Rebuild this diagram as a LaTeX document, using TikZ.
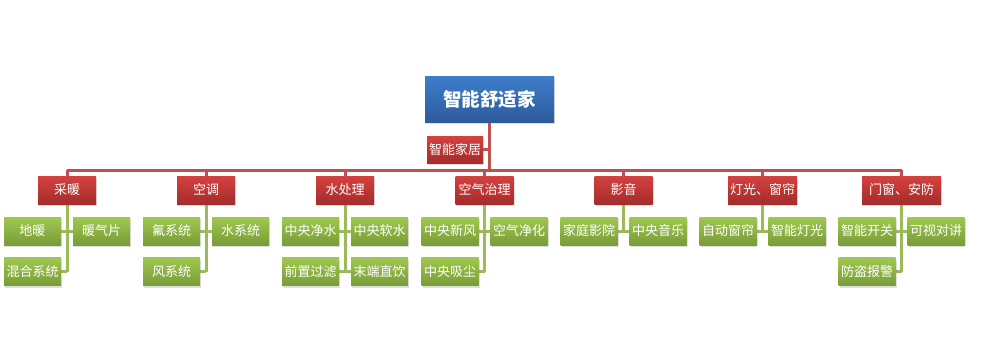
\documentclass[tikz,border=0pt]{standalone}
\usepackage{fontspec}
\setmainfont{Noto Sans CJK SC}
\usetikzlibrary{shadows,backgrounds}
\begin{document}
\begin{tikzpicture}[x=1pt,y=-1pt,
  boxbase/.style={draw=none,inner sep=0pt,text=white,
    drop shadow={opacity=0.25,shadow xshift=1pt,shadow yshift=-2pt}},
  rootbox/.style={boxbase,minimum width=129pt,minimum height=46pt,
    top color={rgb,255:red,62;green,125;blue,202},bottom color={rgb,255:red,44;green,92;blue,156},
    font=\fontsize{18.5}{20}\selectfont\bfseries},
  redbox/.style={boxbase,minimum width=58pt,minimum height=28pt,
    top color={rgb,255:red,212;green,66;blue,64},bottom color={rgb,255:red,164;green,44;blue,42},
    font=\fontsize{13}{15}\selectfont},
  greenbox/.style={boxbase,minimum width=57pt,minimum height=28pt,
    top color={rgb,255:red,160;green,200;blue,80},bottom color={rgb,255:red,120;green,156;blue,56},
    font=\fontsize{13}{15}\selectfont},
  redline/.style={draw={rgb,255:red,192;green,80;blue,77},line width=3pt},
  greenline/.style={draw={rgb,255:red,155;green,187;blue,89},line width=3pt}
]
\useasboundingbox (0,0) rectangle (983,362);

\coordinate (barL) at (67,170);
\coordinate (barR) at (901.5,170);

% root and sub
\node[rootbox] (root) at (489.5,99) {智能舒适家};
\node[redbox,minimum width=56pt,minimum height=27pt] (jj) at (455,149.5) {智能家居};

% categories
\node[redbox] (c1) at (67,190) {采暖};
\node[redbox] (c2) at (206,190) {空调};
\node[redbox] (c3) at (345,190) {水处理};
\node[redbox] (c4) at (484.5,190) {空气治理};
\node[redbox] (c5) at (623.5,190) {影音};
\node[redbox,minimum width=69pt] (c6) at (762.5,190) {灯光、窗帘};
\node[redbox,minimum width=79pt] (c7) at (901.5,190) {门窗、安防};

% leaves
\node[greenbox] (a1) at (32.5,231) {地暖};
\node[greenbox] (a2) at (101.5,231) {暖气片};
\node[greenbox] (a3) at (32.5,271.5) {混合系统};

\node[greenbox] (b1) at (171.5,231) {氟系统};
\node[greenbox] (b2) at (240.5,231) {水系统};
\node[greenbox] (b3) at (171.5,271.5) {风系统};

\node[greenbox] (w1) at (310.5,231) {中央净水};
\node[greenbox] (w2) at (379.5,231) {中央软水};
\node[greenbox] (w3) at (310.5,271.5) {前置过滤};
\node[greenbox] (w4) at (379.5,271.5) {末端直饮};

\node[greenbox] (k1) at (450,231) {中央新风};
\node[greenbox] (k2) at (519,231) {空气净化};
\node[greenbox] (k3) at (450,271.5) {中央吸尘};

\node[greenbox] (y1) at (589,231) {家庭影院};
\node[greenbox] (y2) at (658,231) {中央音乐};

\node[greenbox] (d1) at (728,231) {自动窗帘};
\node[greenbox] (d2) at (797,231) {智能灯光};

\node[greenbox] (m1) at (867,231) {智能开关};
\node[greenbox] (m2) at (936,231) {可视对讲};
\node[greenbox] (m3) at (867,271.5) {防盗报警};

\begin{pgfonlayer}{background}
  % top level
  \draw[redline] (root.south) -- (root.south |- barL);
  \draw[redline] (jj.east) -- (jj.east -| root.south);
  \draw[redline] (barL) -- (barR);
  \foreach \c in {c1,c2,c3,c4,c5,c6,c7}
    \draw[redline] (\c.north) -- (\c.north |- barL);
  % 采暖
  \draw[greenline] (c1.south) -- (c1.south |- a3.east);
  \draw[greenline] (a1.east) -- (a2.west);
  \draw[greenline] (a3.east) -- (a3.east -| c1.south);
  % 空调
  \draw[greenline] (c2.south) -- (c2.south |- b3.east);
  \draw[greenline] (b1.east) -- (b2.west);
  \draw[greenline] (b3.east) -- (b3.east -| c2.south);
  % 水处理
  \draw[greenline] (c3.south) -- (c3.south |- w3.east);
  \draw[greenline] (w1.east) -- (w2.west);
  \draw[greenline] (w3.east) -- (w4.west);
  % 空气治理
  \draw[greenline] (c4.south) -- (c4.south |- k3.east);
  \draw[greenline] (k1.east) -- (k2.west);
  \draw[greenline] (k3.east) -- (k3.east -| c4.south);
  % 影音
  \draw[greenline] (c5.south) -- (c5.south |- y1.east);
  \draw[greenline] (y1.east) -- (y2.west);
  % 灯光、窗帘
  \draw[greenline] (c6.south) -- (c6.south |- d1.east);
  \draw[greenline] (d1.east) -- (d2.west);
  % 门窗、安防
  \draw[greenline] (c7.south) -- (c7.south |- m3.east);
  \draw[greenline] (m1.east) -- (m2.west);
  \draw[greenline] (m3.east) -- (m3.east -| c7.south);
\end{pgfonlayer}
\end{tikzpicture}
\end{document}
